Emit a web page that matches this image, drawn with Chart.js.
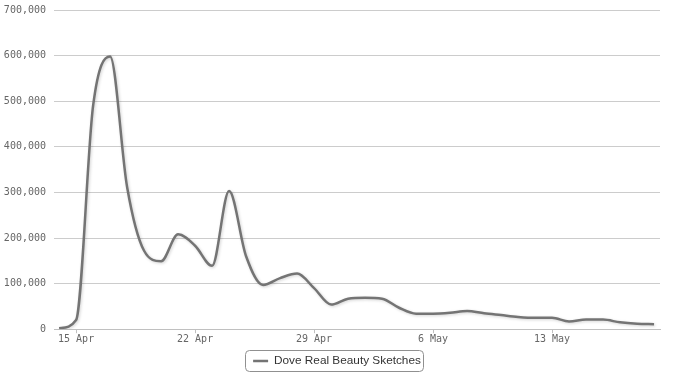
<!DOCTYPE html>
<html><head><meta charset="utf-8">
<script src="https://cdn.jsdelivr.net/npm/chart.js@4"></script>
<style>html,body{margin:0;padding:0;background:#fff}#wrap{width:700px;height:381px;position:relative}</style>
</head><body><div id="wrap"><canvas id="c"></canvas></div>
<script>
const categories = ['14 Apr','15 Apr','16 Apr','17 Apr','18 Apr','19 Apr','20 Apr','21 Apr','22 Apr','23 Apr','24 Apr','25 Apr','26 Apr','27 Apr','28 Apr','29 Apr','30 Apr',
  '1 May','2 May','3 May','4 May','5 May','6 May','7 May','8 May','9 May','10 May','11 May','12 May','13 May','14 May','15 May','16 May','17 May','18 May','19 May'];
const seriesName = 'Dove Real Beauty Sketches';
const views = [2000, 20000, 490000, 598000, 312000, 172000, 149000, 208000, 183000, 139000, 303000, 160000, 97000, 112000, 122000, 90000, 54000,
  67000, 69000, 67000, 47000, 34000, 34000, 36000, 40000, 35000, 31000, 27000, 25000, 25000, 17000, 21000, 21000, 15000, 12000, 11000];
const tickLabels = ['15 Apr','22 Apr','29 Apr','6 May','13 May'];
const yTickValues = [0, 100000, 200000, 300000, 400000, 500000, 600000, 700000];

const points = views.map((v, i) => ({x: i, y: v}));
const tickIdx = tickLabels.map(l => categories.indexOf(l));

const shadowPlugin = {
  id: 'shadow',
  beforeDatasetsDraw(chart) {
    const ctx = chart.ctx; ctx.save();
    ctx.shadowColor = 'rgba(0,0,0,0.18)'; ctx.shadowBlur = 3; ctx.shadowOffsetX = 1; ctx.shadowOffsetY = 1;
  },
  afterDatasetsDraw(chart) { chart.ctx.restore(); }
};
const legendBox = {
  id: 'legendBox',
  afterUpdate(chart) {
    const lg = chart.legend; if (!lg) return;
    const dx = 7;
    lg.left += dx; lg.right += dx;
    (lg.legendHitBoxes || []).forEach(h => { h.left += dx; });
  },
  afterDraw(chart) {
    const lg = chart.legend; if (!lg || !lg.legendHitBoxes || !lg.legendHitBoxes.length) return;
    const hb = lg.legendHitBoxes[0];
    const ctx = chart.ctx; ctx.save();
    const x = hb.left - 8, y = hb.top + hb.height/2 - 11, w = hb.width + 10, h = 21, r = 4;
    ctx.strokeStyle = '#909090'; ctx.lineWidth = 1;
    ctx.beginPath();
    ctx.roundRect(Math.round(x)+0.5, Math.round(y)+0.5, Math.round(w), h, r);
    ctx.stroke(); ctx.restore();
  }
};

new Chart(document.getElementById('c'), {
  type: 'line',
  data: { datasets: [{
    label: seriesName, data: points,
    borderColor: '#747474', backgroundColor: '#747474', borderWidth: 2.5,
    cubicInterpolationMode: 'monotone', pointRadius: 0, fill: false
  }]},
  options: {
    responsive: true, maintainAspectRatio: false, devicePixelRatio: 1, animation: false,
    layout: { padding: { left: 0, right: 40, top: 10, bottom: 4 } },
    scales: {
      x: {
        type: 'linear', min: -0.3, max: 35.35,
        afterBuildTicks(scale) { scale.ticks = tickIdx.map(v => ({value: v})); },
        afterFit(scale) { scale.height = 16; },
        ticks: { autoSkip: false, maxRotation: 0, padding: 0, color: '#666',
          font: { family: 'DejaVu Sans Mono', size: 10 },
          callback: (v) => categories[v] },
        grid: { drawOnChartArea: false, drawTicks: true, tickLength: 4, color: '#c0c0c0' },
        border: { display: true, color: '#c0c0c0' }
      },
      y: {
        min: 0, max: 700000,
        afterBuildTicks(scale) { scale.ticks = yTickValues.map(v => ({value: v})); },
        afterFit(scale) { scale.width = 54; scale.paddingTop = 4; scale.paddingBottom = 4; },
        ticks: { padding: 8, color: '#666', font: { family: 'DejaVu Sans Mono', size: 10 },
          callback: (v) => v.toLocaleString('en-US') },
        grid: { drawTicks: false, color: '#cccccc' },
        border: { display: false }
      }
    },
    plugins: {
      legend: { position: 'bottom',
        labels: { usePointStyle: true, pointStyle: 'line', pointStyleWidth: 15, boxHeight: 12, padding: 10,
          color: '#333', font: { family: 'Liberation Sans', size: 11.8 } } },
      tooltip: { enabled: false }
    }
  },
  plugins: [shadowPlugin, legendBox]
});
</script></body></html>
